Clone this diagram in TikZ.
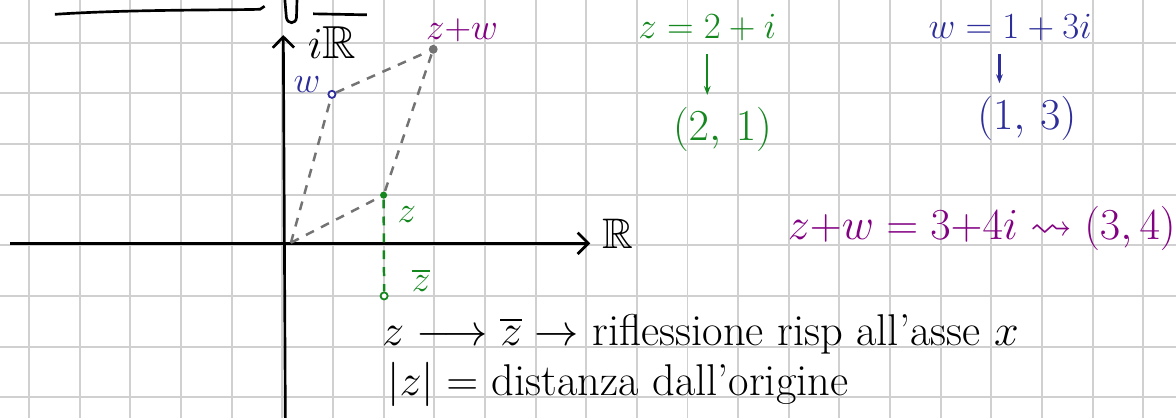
\documentclass[tikz,border=0pt]{standalone}
\usepackage{amssymb}
\usetikzlibrary{arrows.meta}
\definecolor{verde}{RGB}{20,135,30}
\definecolor{blu}{RGB}{45,45,155}
\definecolor{viola}{RGB}{130,0,130}
\definecolor{grigio}{RGB}{115,115,115}
\definecolor{quadretti}{RGB}{208,208,208}

\begin{document}
\begin{tikzpicture}
\tikzset{quadro/.style={draw=quadretti, line width=1.1pt},
  asse/.style={line width=1.5pt, -{Straight Barb[length=6pt,width=12pt]}},
  tratteggio/.style={grigio, line width=1.4pt, dash pattern=on 5pt off 4.5pt},
  puntino/.style={circle, inner sep=0pt, minimum size=4pt, line width=1pt},
  freccina/.style={line width=1.2pt, -{Stealth[length=5pt]}, shorten <=6pt, shorten >=6pt},
  scritta/.style={inner sep=1pt, font=\fontsize{20}{24}\selectfont},
  grande/.style={inner sep=1pt, font=\fontsize{28}{32}\selectfont}}
\useasboundingbox (-5.574,-3.410) rectangle (17.645,4.843);
\draw[quadro] (-5.574,-3.410) grid (17.645,4.843);
% resti della riga sopra
\draw[line width=1.5pt] (-4.49,4.56) .. controls (-3,4.66) and (-1,4.64) .. (-0.44,4.66) -- (-0.35,4.72);
\draw[line width=1.5pt] (0.05,4.85) -- (0.08,4.5) .. controls (0.1,4.36) and (0.27,4.36) .. (0.28,4.5) -- (0.29,4.85);
\draw[line width=1.5pt] (0.61,4.57) -- (1.67,4.55);
% assi
\coordinate (xs) at (-5.38,0.04);
\coordinate (xe) at (6.08,0.04);
\coordinate (ys) at (0.06,-3.45);
\coordinate (ye) at (0.02,4.15);
\draw[asse] (xs) -- (xe);
\draw[asse] (ys) -- (ye);
\node[inner sep=1pt, font=\fontsize{26}{30}\selectfont] (iR) at (0.98,4.01) {$i\mathbb{R}$};
\node[scritta, font=\fontsize{24}{28}\selectfont] (R) at (6.63,0.22) {$\mathbb{R}$};
% punti
\coordinate (O) at (0.17,0.05);
\node[puntino, fill=verde] (z) at (2,0.99) {};
\node[puntino, draw=blu, fill=white] (w) at (0.98,2.98) {};
\node[puntino, draw=verde, fill=white] (zc) at (2.01,-1.0) {};
\node[puntino, fill=grigio, minimum size=5pt] (zw) at (2.98,3.87) {};
\draw[tratteggio] (O) -- (w);
\draw[tratteggio] (w) -- (zw);
\draw[tratteggio] (O) -- (z);
\draw[tratteggio] (z) -- (zw);
\draw[tratteggio, verde] (z) -- (zc);
\node[scritta, blu] (lw) at (0.49,3.18) {$w$};
\node[scritta, viola] (lzw) at (3.55,4.25) {$z{+}w$};
\node[scritta, verde] (lz) at (2.46,0.61) {$z$};
\node[scritta, verde] (lzc) at (2.74,-0.69) {$\overline{z}$};
% a destra
\node[scritta, verde] (zeq) at (8.39,4.29) {$z = 2 + i$};
\node[grande, verde] (zpair) at (8.69,2.28) {$(2,\,1)$};
\draw[freccina, verde] (zeq.south) -- (zeq.south |- zpair.north);
\node[scritta, blu, font=\fontsize{22.5}{26}\selectfont] (weq) at (14.37,4.29) {$w = 1 + 3i$};
\node[grande, blu] (wpair) at (14.70,2.51) {$(1,\,3)$};
\draw[freccina, blu] ([xshift=-6pt]weq.south) -- ([xshift=-6pt]weq.south |- wpair.north);
\node[scritta, viola, font=\fontsize{23.5}{27}\selectfont] (somma) at (13.81,0.34) {$z{+}w = 3{+}4i \leadsto (3,4)$};
% sotto
\node[scritta, anchor=base west, font=\fontsize{25}{30}\selectfont] (coniugato) at (1.93,-1.97) {$z \longrightarrow \overline{z} \rightarrow$ riflessione risp all'asse $x$};
\node[scritta, anchor=base west, font=\fontsize{25}{30}\selectfont] (modulo) at (2.03,-2.96) {$|z| =$ distanza dall'origine};
\end{tikzpicture}
\end{document}
